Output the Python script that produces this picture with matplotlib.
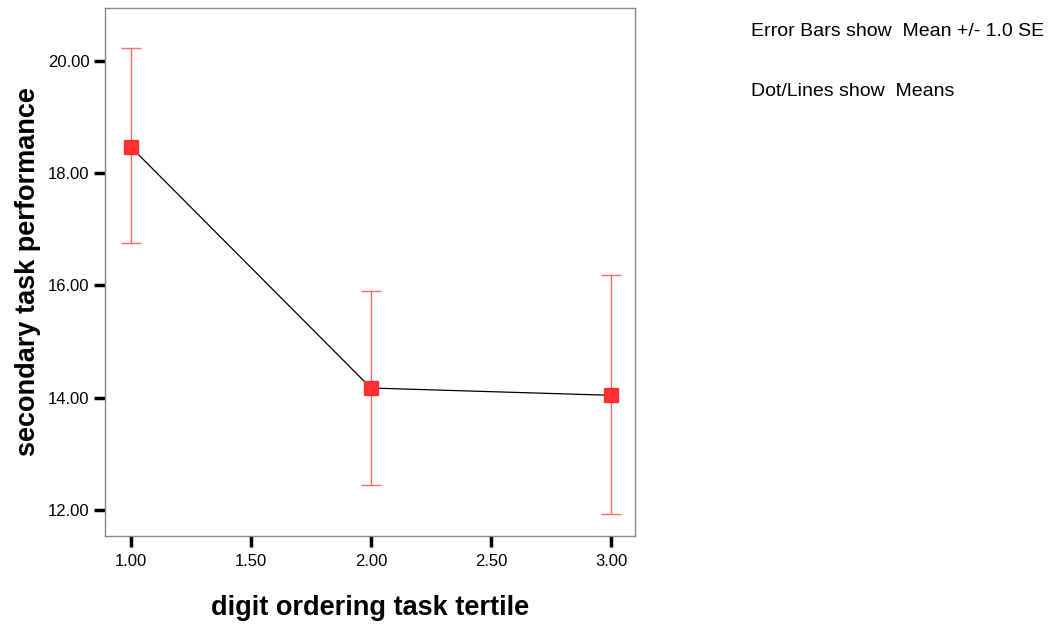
import matplotlib
matplotlib.use('Agg')
import matplotlib.pyplot as plt

plt.rcParams['font.family'] = ['Liberation Sans', 'DejaVu Sans']

# tertile groups and mean secondary task performance
tertile = [1.0, 2.0, 3.0]
means = [18.47, 14.17, 14.04]
se_upper = [20.23, 15.90, 16.19]
se_lower = [16.75, 12.44, 11.92]

yerr = [[m - lo for m, lo in zip(means, se_lower)],
        [hi - m for m, hi in zip(means, se_upper)]]

fig = plt.figure(figsize=(10.52, 6.25), dpi=100)
ax = fig.add_axes([0.0998, 0.1424, 0.5038, 0.8448])

# error bars (mean +/- 1 SE)
ax.errorbar(tertile, means, yerr=yerr, fmt='none', ecolor='#ff5050',
            elinewidth=1, capsize=7, capthick=1, alpha=0.85, zorder=2)
# means line and markers
ax.plot(tertile, means, color='black', lw=0.9, zorder=3)
ax.plot(tertile, means, 's', color='#ff3030', markersize=9.5, zorder=4)

ax.set_xlim(0.892, 3.10)
ax.set_ylim(11.53, 20.95)
ax.set_xticks([1.0, 1.5, 2.0, 2.5, 3.0])
ax.set_yticks([12, 14, 16, 18, 20])
ax.set_xticklabels(['%.2f' % v for v in [1.0, 1.5, 2.0, 2.5, 3.0]])
ax.set_yticklabels(['%.2f' % v for v in [12, 14, 16, 18, 20]])
ax.tick_params(direction='out', length=8, width=2.5, labelsize=12)
ax.tick_params(axis='x', pad=5)
ax.tick_params(axis='y', pad=3)

for s in ax.spines.values():
    s.set_color('#888888')
    s.set_linewidth(1)

ax.set_xlabel('digit ordering task tertile', fontsize=19.5, fontweight='bold', labelpad=19)
ax.set_ylabel('secondary task performance', fontsize=19.5, fontweight='bold', labelpad=5)

fig.text(751 / 1052, 1 - 31 / 625, 'Error Bars show  Mean +/- 1.0 SE', fontsize=14, va='center')
fig.text(751 / 1052, 1 - 91 / 625, 'Dot/Lines show  Means', fontsize=14, va='center')

plt.savefig('out.png', dpi=100)
